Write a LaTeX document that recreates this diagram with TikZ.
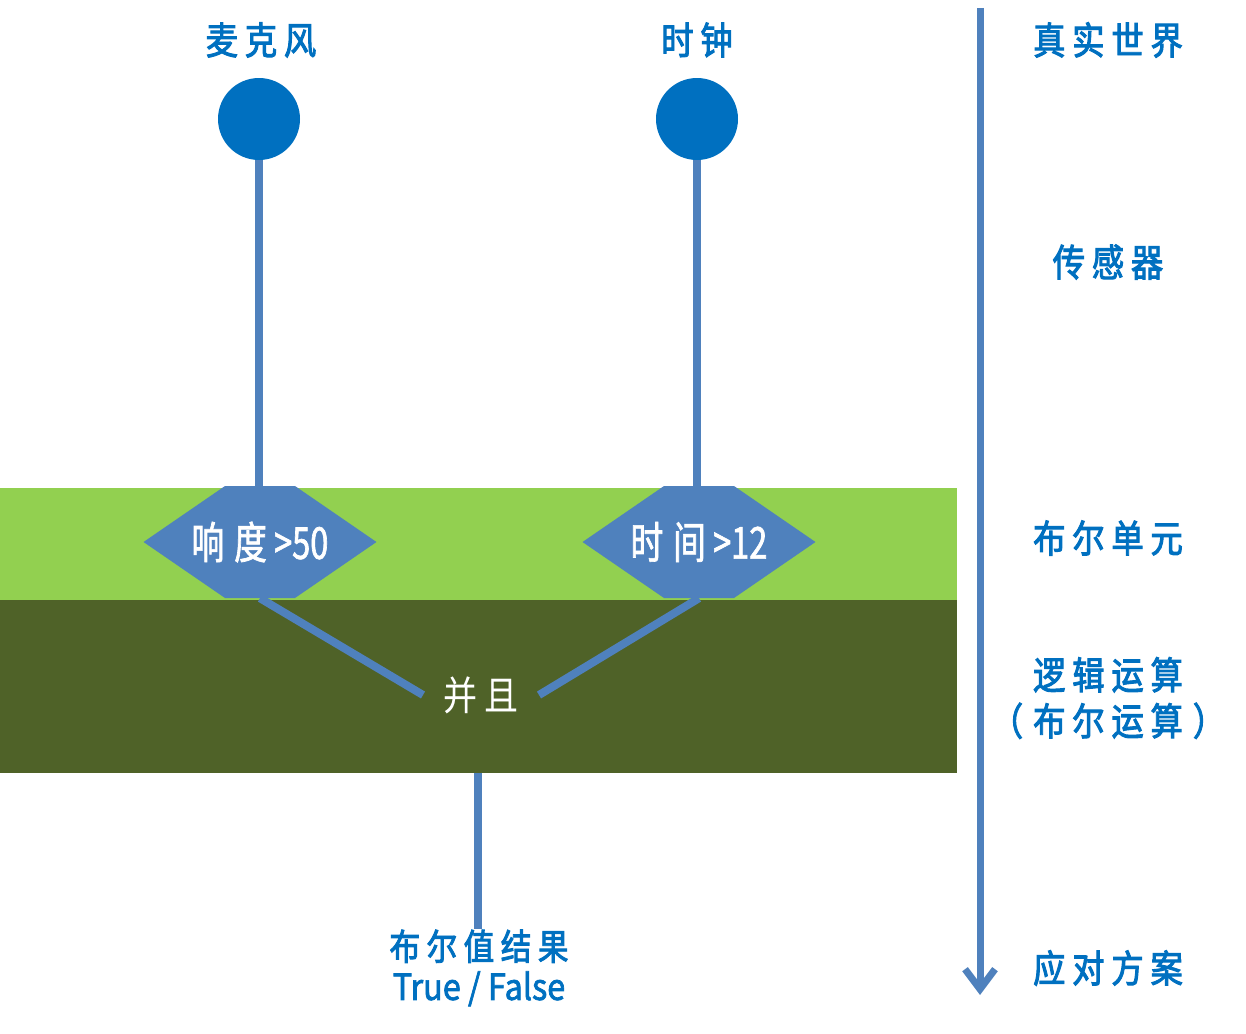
\documentclass[tikz,border=0pt]{standalone}
\usepackage{fontspec}
\setmainfont{Noto Sans CJK SC}
\newfontfamily\cjk{Noto Sans CJK SC}[FakeStretch=0.85,LetterSpace=18,FakeBold=2.5]
\newfontfamily\cjknarrow{Noto Sans CJK SC}[FakeStretch=0.85]
\newfontfamily\cjkfalse{Noto Sans CJK SC}[FakeStretch=0.9,FakeBold=2]
\newfontfamily\cjkhex{Noto Sans CJK SC}[FakeStretch=0.74,FakeBold=1.5]
\usetikzlibrary{arrows.meta}
\usetikzlibrary{shapes.symbols}
\usetikzlibrary{positioning}

\definecolor{linkblue}{HTML}{4F81BD}
\definecolor{dotblue}{HTML}{0070C0}
\definecolor{lightgreen}{HTML}{92D050}
\definecolor{darkgreen}{HTML}{4F6228}

\newcommand{\hexlabel}[1]{\makebox[70pt]{#1}}

\tikzset{
  lbl/.style={text=dotblue,inner sep=0pt,font=\cjk\fontsize{38}{44}\selectfont},
  dot/.style={circle,fill=dotblue,minimum size=82pt,inner sep=0pt},
  hexbox/.style={signal,signal to=east and west,signal pointer angle=69,
    fill=linkblue,minimum height=112pt,inner sep=0pt,
    text=white,font=\cjkhex\fontsize{44}{48}\selectfont},
  link/.style={draw=linkblue,line width=8pt},
}

\begin{document}
\begin{tikzpicture}[x=1pt,y=-1pt]
        \useasboundingbox (0,0) rectangle (1246,1033);
        % bands
        \fill[lightgreen] (0,488) rectangle (957,600);
        \fill[darkgreen] (0,600) rectangle (957,773);
        % sensors
        \node[lbl] (micname) at (261,40) {麦克风};
        \node[lbl] (clockname) at (697,40) {时钟};
        \node[dot] (mic) at (259,119) {};
        \node[dot] (clock) at (697,119) {};
        % boolean units
        \node[hexbox] (loud) at (260,542) {\hexlabel{响\hspace{10pt}度\,>50}};
        \node[hexbox] (hour) at (699,542) {\hexlabel{时\hspace{10pt}间\,>12}};
        \node[text=white,inner sep=20pt,font=\cjknarrow\fontsize{40}{44}\selectfont] (and) at (481,695) {并 且};
        % result
        \node[lbl,align=center,font=\cjk\fontsize{36}{44}\selectfont] (res) at (479,968)
          {布尔值结果\\[-4pt]{\cjkfalse\fontsize{36}{44}\selectfont True / False}};
        \coordinate (bandbot) at (478,773);
        % connectors
        \draw[link] (mic) -- (mic |- loud.north);
        \draw[link] (clock) -- (clock |- hour.north);
        \draw[link] (loud.south) -- (and.west);
        \draw[link] (hour.south) -- (and.east);
        \draw[link] (bandbot) -- (bandbot |- res.north);
        % axis
        \coordinate (axtop) at (980,8);
        \coordinate (axbot) at (980,995);
        \draw[draw=linkblue,line width=7pt,-{Straight Barb[length=20pt,width=30pt]}] (axtop) -- (axbot);
        % levels
        \node[lbl] (lvl1) at (1108,40) {真实世界};
        \node[lbl] (lvl2) at (1108,262) {传感器};
        \node[lbl] (lvl3) at (1108,538) {布尔单元};
        \node[lbl,align=center] (lvl4) at (1108,698) {逻辑运算\\[2pt]（\kern10pt 布尔运算\kern10pt ）};
        \node[lbl] (lvl5) at (1108,968) {应对方案};
      \end{tikzpicture}
\end{document}
